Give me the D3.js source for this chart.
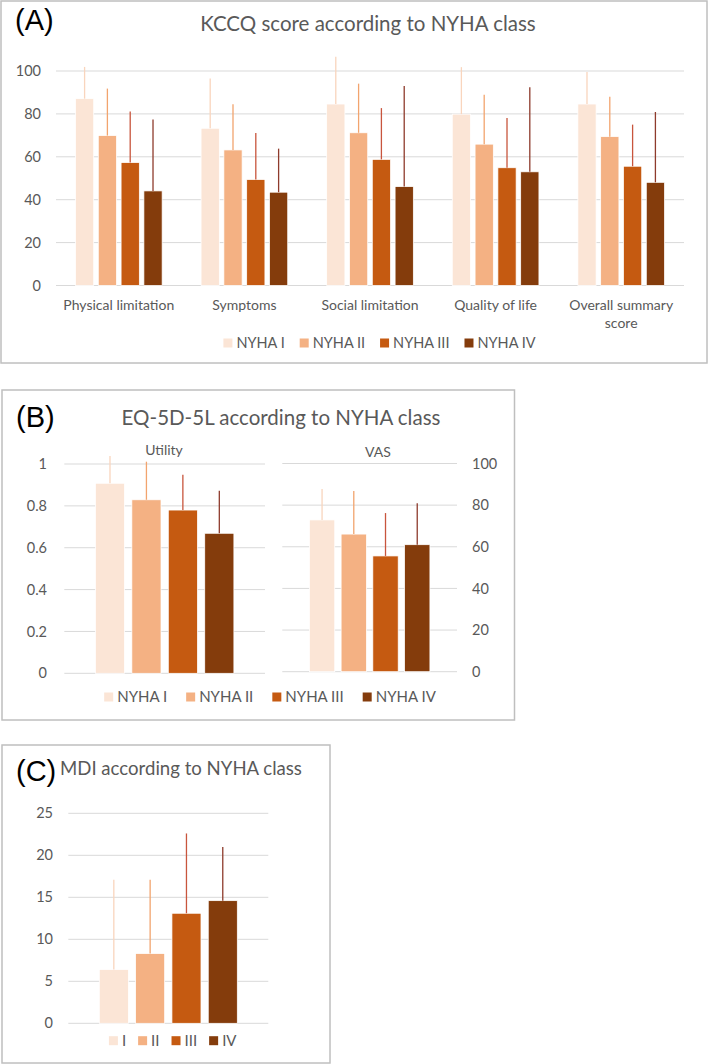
<!DOCTYPE html>
<html>
<head>
<meta charset="utf-8">
<script src="https://cdn.jsdelivr.net/npm/d3@7"></script>
<style>
  body { margin: 0; background: #fff; }
  svg text { font-family: Lato, "Open Sans", sans-serif; fill: #595959; }
  .tag { font-family: "Liberation Sans", Arial, sans-serif; fill: #000; }
</style>
</head>
<body>
<svg id="chart" width="709" height="1064"></svg>
<script>
// データ
const nyha = ["NYHA I", "NYHA II", "NYHA III", "NYHA IV"];
const nyhaShort = ["I", "II", "III", "IV"];

const kccqCategories = ["Physical limitation", "Symptoms", "Social limitation", "Quality of life", "Overall summary score"];
// rows = category, columns = NYHA I..IV
const kccqMean = [
  [87.1, 69.9, 57.3, 44.1],
  [73.3, 63.2, 49.4, 43.5],
  [84.6, 71.2, 58.8, 46.1],
  [79.9, 65.9, 54.9, 53.0],
  [84.6, 69.4, 55.6, 48.1],
];
const kccqSd = [
  [14.8, 21.9, 23.8, 33.3],
  [23.2, 21.3, 21.7, 20.3],
  [22.1, 22.9, 23.9, 46.9],
  [21.9, 23.0, 23.2, 39.4],
  [14.9, 18.6, 19.4, 32.8],
];
const kccqTicks = [0, 20, 40, 60, 80, 100];

const utilityMean = [0.908, 0.829, 0.780, 0.669];
const utilitySd = [0.130, 0.182, 0.169, 0.203];
const utilityTicks = [0, 0.2, 0.4, 0.6, 0.8, 1];

const vasMean = [72.9, 66.1, 55.6, 61.0];
const vasSd = [14.9, 20.7, 20.6, 19.9];
const vasTicks = [0, 20, 40, 60, 80, 100];

const mdiMean = [6.4, 8.3, 13.1, 14.6];
const mdiSd = [10.7, 8.8, 9.5, 6.4];
const mdiTicks = [0, 5, 10, 15, 20, 25];

const fillColors = ["#fbe5d6", "#f4b183", "#c55a11", "#843c0c"];
const errColors = ["#f9d5bd", "#f2a46e", "#c8553d", "#8e3b2c"];

const svg = d3.select("#chart");

function panelBox(x0, y0, x1, y1) {
  svg.append("rect")
    .attr("x", x0).attr("y", y0)
    .attr("width", x1 - x0).attr("height", y1 - y0)
    .attr("fill", "#fff").attr("stroke", "#bfbfbf").attr("stroke-width", 1.5);
}

function grid(y, ticks, xa, xb) {
  svg.append("g").selectAll("line").data(ticks).join("line")
    .attr("x1", xa).attr("x2", xb)
    .attr("y1", d => y(d)).attr("y2", d => y(d))
    .attr("stroke", "#d9d9d9").attr("stroke-width", 1);
}

function yLabels(y, ticks, xPos, side) {
  const axis = (side === "left" ? d3.axisLeft(y) : d3.axisRight(y))
    .tickValues(ticks).tickSize(0).tickPadding(0).tickFormat(d => String(d));
  const g = svg.append("g").attr("transform", `translate(${xPos},0)`).call(axis);
  g.select(".domain").remove();
  g.selectAll("text").attr("font-size", 14.5).attr("font-family", null).attr("fill", "#595959");
}

function drawBars(categories, means, sds, x, y) {
  const x1 = d3.scaleBand().domain(nyha).range([0, x.bandwidth()]).paddingInner(0.2);
  const groups = svg.append("g").selectAll("g").data(categories).join("g")
    .attr("transform", d => `translate(${x(d)},0)`);
  groups.each(function (cat, ci) {
    const rows = nyha.map((k, i) => ({ k, i, m: means[ci][i], sd: sds[ci][i] }));
    const sel = d3.select(this);
    sel.selectAll("rect").data(rows).join("rect")
      .attr("x", d => x1(d.k))
      .attr("y", d => y(d.m))
      .attr("width", x1.bandwidth())
      .attr("height", d => y(0) - y(d.m))
      .attr("fill", d => fillColors[d.i])
      .attr("stroke", "#fff").attr("stroke-width", 0.75);
    sel.selectAll("line").data(rows).join("line")
      .attr("x1", d => x1(d.k) + x1.bandwidth() / 2)
      .attr("x2", d => x1(d.k) + x1.bandwidth() / 2)
      .attr("y1", d => y(d.m))
      .attr("y2", d => y(d.m + d.sd))
      .attr("stroke", d => errColors[d.i]).attr("stroke-width", 1.3);
  });
}

function legend(labels, cx, cy, itemGap, fontSize) {
  const g = svg.append("g");
  const items = g.selectAll("g").data(labels).join("g");
  items.append("rect").attr("width", 9).attr("height", 9).attr("y", -4.5)
    .attr("fill", (d, i) => fillColors[i]);
  items.append("text").attr("x", 13).attr("dy", "0.35em")
    .attr("font-size", fontSize).text(d => d);
  let pos = 0;
  items.each(function () {
    const w = 13 + this.querySelector("text").getComputedTextLength();
    d3.select(this).attr("transform", `translate(${pos},${cy})`);
    pos += w + itemGap;
  });
  const total = pos - itemGap;
  g.attr("transform", `translate(${cx - total / 2},0)`);
}

function wrap(text, width) {
  text.each(function () {
    const t = d3.select(this);
    const words = t.text().split(/\s+/);
    const x = t.attr("x");
    t.text(null);
    let line = [];
    let tspan = t.append("tspan").attr("x", x);
    words.forEach(w => {
      line.push(w);
      tspan.text(line.join(" "));
      if (tspan.node().getComputedTextLength() > width && line.length > 1) {
        line.pop();
        tspan.text(line.join(" "));
        line = [w];
        tspan = t.append("tspan").attr("x", x).attr("dy", "1.3em").text(w);
      }
    });
  });
}

// (A) KCCQ
panelBox(1, 1, 707, 363);
svg.append("text").attr("class", "tag").attr("x", 15).attr("y", 30).attr("font-size", 29).text("(A)");
svg.append("text").attr("x", 368).attr("y", 31).attr("text-anchor", "middle").attr("font-size", 20.5)
  .text("KCCQ score according to NYHA class");

const yA = d3.scaleLinear().domain([0, 100]).range([285.5, 71]);
const xA = d3.scaleBand().domain(kccqCategories).range([56, 684]).paddingInner(0.31).paddingOuter(0.155);
grid(yA, kccqTicks, 56, 684);
yLabels(yA, kccqTicks, 41, "left");
drawBars(kccqCategories, kccqMean, kccqSd, xA, yA);
svg.append("g").selectAll("text").data(kccqCategories).join("text")
  .attr("x", d => xA(d) + xA.bandwidth() / 2)
  .attr("y", 310)
  .attr("text-anchor", "middle").attr("font-size", 14)
  .text(d => d)
  .call(wrap, xA.step() - 4);
legend(nyha, 379.5, 343, 15, 14.5);

// (B) EQ-5D-5L
panelBox(2, 390, 514.5, 720);
svg.append("text").attr("class", "tag").attr("x", 16).attr("y", 427).attr("font-size", 29).text("(B)");
svg.append("text").attr("x", 281).attr("y", 425).attr("text-anchor", "middle").attr("font-size", 20.5)
  .text("EQ-5D-5L according to NYHA class");

const yU = d3.scaleLinear().domain([0, 1]).range([673.3, 464]);
const xU = d3.scaleBand().domain(["Utility"]).range([64.3, 265]).paddingInner(0.31).paddingOuter(0.155);
grid(yU, utilityTicks, 64.3, 265);
yLabels(yU, utilityTicks, 47, "left");
drawBars(["Utility"], [utilityMean], [utilitySd], xU, yU);
svg.append("text").attr("x", 164).attr("y", 455).attr("text-anchor", "middle").attr("font-size", 14).text("Utility");

const yV = d3.scaleLinear().domain([0, 100]).range([671.7, 463.5]);
const xV = d3.scaleBand().domain(["VAS"]).range([282.3, 457]).paddingInner(0.31).paddingOuter(0.155);
grid(yV, vasTicks, 282.3, 457);
yLabels(yV, vasTicks, 472, "right");
drawBars(["VAS"], [vasMean], [vasSd], xV, yV);
svg.append("text").attr("x", 378).attr("y", 457).attr("text-anchor", "middle").attr("font-size", 14).text("VAS");

legend(nyha, 270, 697, 19, 15);

// (C) MDI
panelBox(2, 745, 330, 1063);
svg.append("text").attr("class", "tag").attr("x", 16).attr("y", 781).attr("font-size", 29).text("(C)");
svg.append("text").attr("x", 60).attr("y", 775).attr("font-size", 18.6).text("MDI according to NYHA class");

const yM = d3.scaleLinear().domain([0, 25]).range([1023.3, 813.3]);
const xM = d3.scaleBand().domain(["MDI"]).range([68.3, 268.3]).paddingInner(0.31).paddingOuter(0.155);
grid(yM, mdiTicks, 68.3, 268.3);
yLabels(yM, mdiTicks, 53, "left");
drawBars(["MDI"], [mdiMean], [mdiSd], xM, yM);
legend(nyhaShort, 172.7, 1040.7, 12, 15);
</script>
</body>
</html>
